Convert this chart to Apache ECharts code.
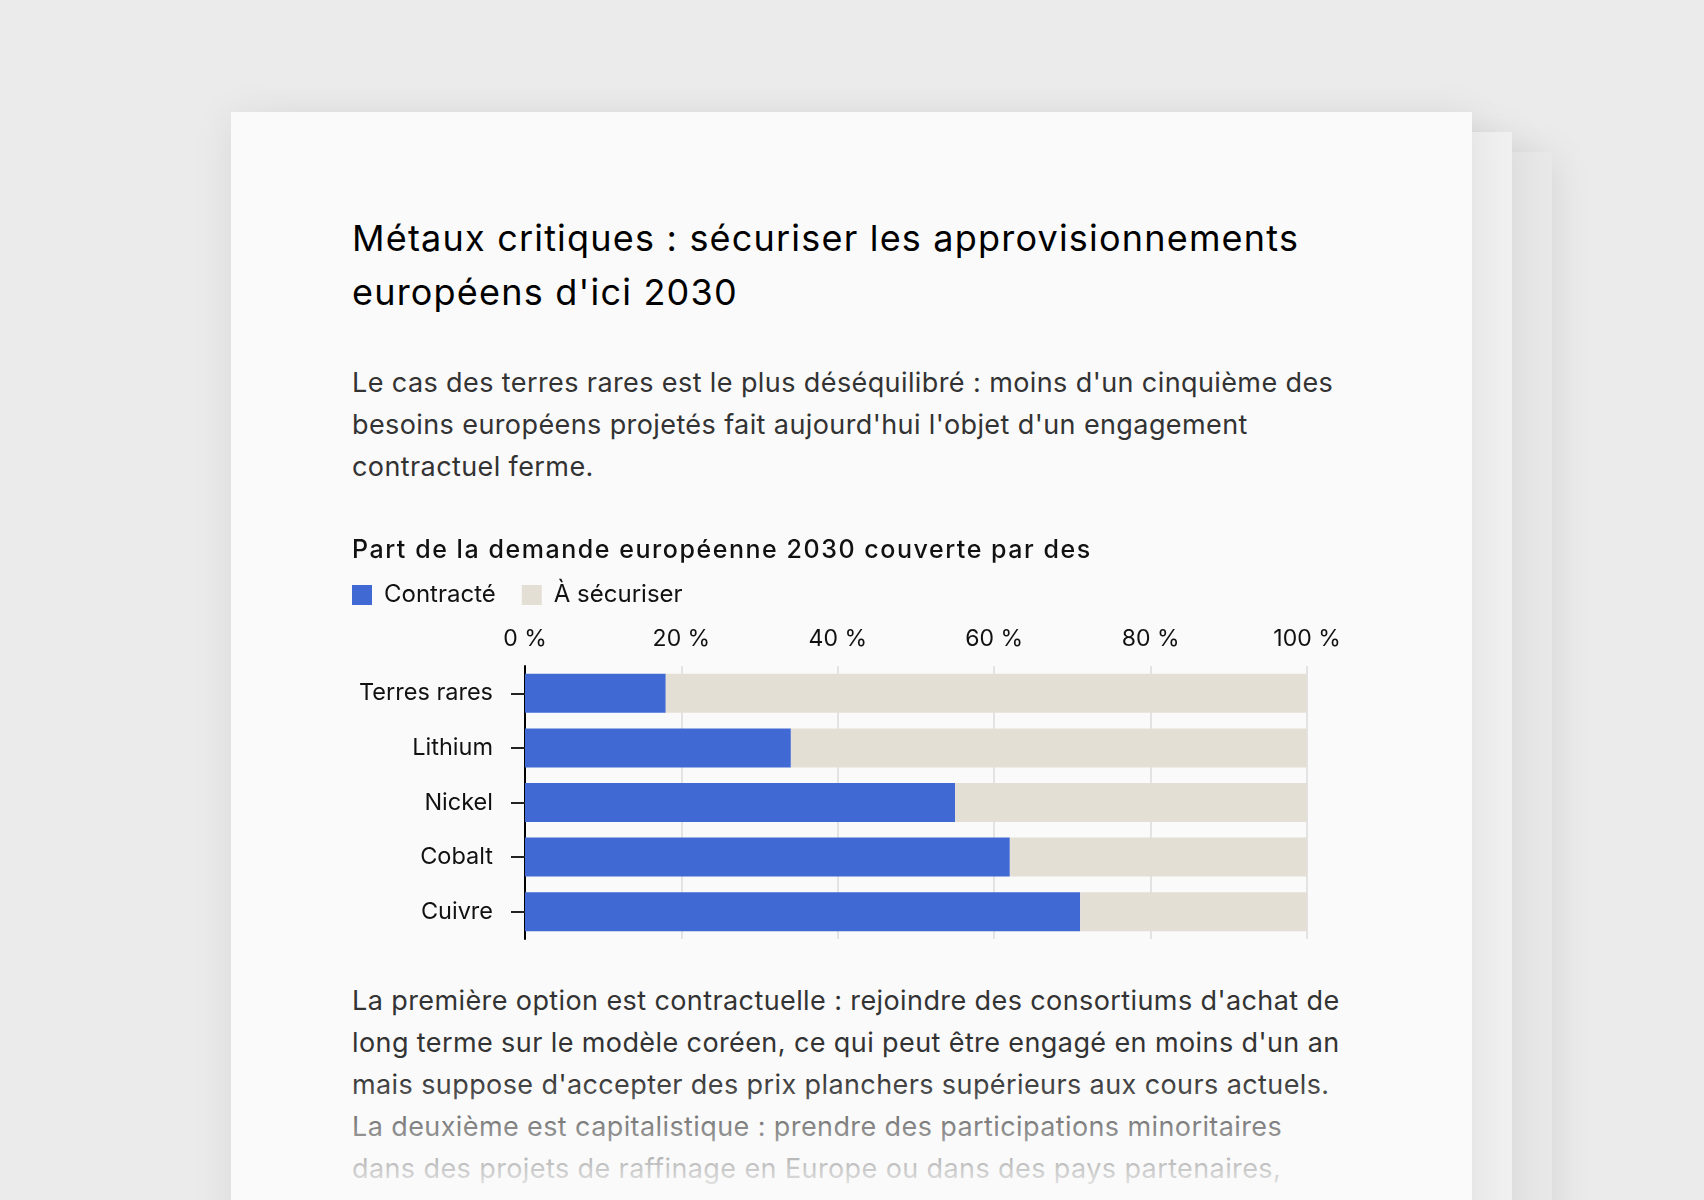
<!DOCTYPE html>
<html lang="fr">
<head>
<meta charset="utf-8">
<title>Métaux critiques</title>
<script src="https://cdn.jsdelivr.net/npm/echarts@6/dist/echarts.min.js"></script>
<style>
  html, body { margin: 0; padding: 0; }
  body {
    width: 1704px; height: 1200px; overflow: hidden; position: relative;
    background: #ebebeb; font-family: Inter, "Noto Sans", sans-serif;
  }
  .sheet { position: absolute; width: 1241px; height: 1200px; }
  .s3 { left: 311px; top: 152px; background: #e8e8e8; box-shadow: 0 4px 40px rgba(0,0,0,0.1); }
  .s2 { left: 271px; top: 132px; background: #f0f0f0; box-shadow: 0 4px 40px rgba(0,0,0,0.08); }
  .s1 { left: 231px; top: 112px; background: #fafafa; box-shadow: 0 4px 40px rgba(0,0,0,0.08); }
  .txt { position: absolute; left: 352px; white-space: nowrap; margin: 0; }
  h1 {
    top: 212px; font-size: 36px; line-height: 53.5px; letter-spacing: 1.2px;
    font-weight: 400; color: #000;
  }
  .p { font-size: 27px; line-height: 42px; letter-spacing: 0.4px; color: #333; }
  #lead { top: 362px; }
  #next { top: 980px; }
  #chartTitle {
    top: 534px; font-size: 25px; line-height: 30px; letter-spacing: 1.55px;
    font-weight: 500; color: #111;
  }
  #fade {
    position: absolute; left: 231px; width: 1241px; top: 1075px; height: 125px;
    background: linear-gradient(rgba(250,250,250,0), rgba(250,250,250,1));
  }
  #main { position: absolute; left: 340px; top: 520px; width: 1100px; height: 440px; }
</style>
</head>
<body>
<div class="sheet s3"></div>
<div class="sheet s2"></div>
<div class="sheet s1"></div>

<h1 class="txt">Métaux critiques : sécuriser les approvisionnements<br>européens d'ici 2030</h1>
<p class="txt p" id="lead">Le cas des terres rares est le plus déséquilibré : moins d'un cinquième des<br>besoins européens projetés fait aujourd'hui l'objet d'un engagement<br>contractuel ferme.</p>

<div id="main"></div>
<div class="txt" id="chartTitle">Part de la demande européenne 2030 couverte par des</div>

<p class="txt p" id="next">La première option est contractuelle : rejoindre des consortiums d'achat de<br>long terme sur le modèle coréen, ce qui peut être engagé en moins d'un an<br>mais suppose d'accepter des prix planchers supérieurs aux cours actuels.<br>La deuxième est capitalistique : prendre des participations minoritaires<br>dans des projets de raffinage en Europe ou dans des pays partenaires,</p>
<div id="fade"></div>

<script>
// données
var metaux = ['Terres rares', 'Lithium', 'Nickel', 'Cobalt', 'Cuivre'];
var contracte = [18, 34, 55, 62, 71];
var aSecuriser = [82, 66, 45, 38, 29];
var ticks = [0, 20, 40, 60, 80, 100];

var police = 'Inter, "Noto Sans", sans-serif';
var chart = echarts.init(document.getElementById('main'), null, { renderer: 'canvas' });

var option = {
    animation: false,
    legend: {
        left: 12,
        top: 63,
        padding: 0,
        itemWidth: 20,
        itemHeight: 20,
        itemGap: 26,
        icon: 'rect',
        textStyle: { fontFamily: police, fontSize: 24, color: '#111', padding: [0, 0, 0, 7] },
        data: ['Contracté', 'À sécuriser']
    },
    grid: { left: 185, top: 146, width: 782, height: 273, containLabel: false, outerBoundsMode: 'none' },
    xAxis: {
        type: 'value',
        position: 'top',
        min: ticks[0],
        max: ticks[ticks.length - 1],
        interval: 20,
        axisLine: { show: false },
        axisTick: { show: false },
        axisLabel: {
            margin: 15,
            fontFamily: police, fontSize: 23, color: '#111',
            formatter: '{value} %'
        },
        splitLine: { show: true, lineStyle: { color: '#e3e3e3', width: 2 } }
    },
    yAxis: {
        type: 'category',
        inverse: true,
        data: metaux,
        axisLine: { show: true, lineStyle: { color: '#000', width: 2 } },
        axisTick: { show: true, alignWithLabel: true, length: 14, lineStyle: { color: '#222', width: 2 } },
        axisLabel: { margin: 32, fontFamily: police, fontSize: 23.5, color: '#111' }
    },
    series: [
        {
            name: 'Contracté',
            type: 'bar',
            stack: 'total',
            barWidth: 39,
            data: contracte,
            itemStyle: { color: '#4169d4' }
        },
        {
            name: 'À sécuriser',
            type: 'bar',
            stack: 'total',
            barWidth: 39,
            data: aSecuriser,
            itemStyle: { color: '#e4dfd4' }
        }
    ]
};
chart.setOption(option);
</script>
</body>
</html>
